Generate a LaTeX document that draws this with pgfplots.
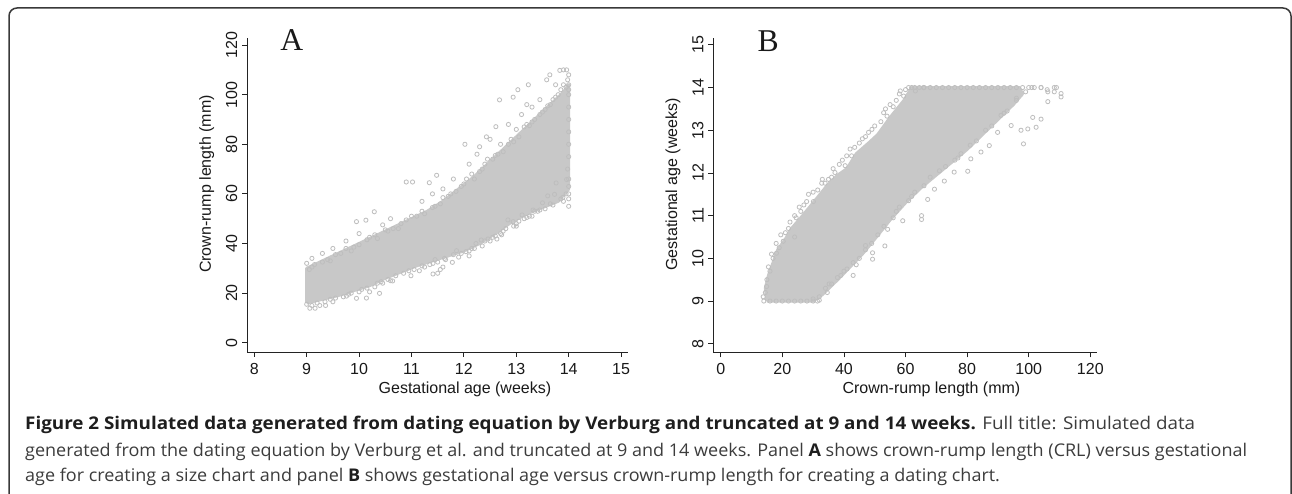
\documentclass[border=0pt]{standalone}
\usepackage{fontspec}
\setmainfont{Liberation Sans}
\newfontfamily\capfont{Open Sans}
\newfontfamily\panelfont{Liberation Serif}
\usepackage{graphicx}
\usepackage{pgfplots}
\pgfplotsset{compat=1.18}
\definecolor{dots}{RGB}{190,190,190}
\definecolor{core}{RGB}{200,200,200}
\definecolor{axc}{RGB}{35,35,35}
\definecolor{capc}{RGB}{60,60,60}
\definecolor{capb}{RGB}{30,30,30}
\newlength\capw
\newcommand\fitline[2]{\settowidth\capw{#2}\pgfmathsetmacro\sx{#1/\capw}\scalebox{\sx}[1]{#2}}

\pgfplotsset{
  stataaxis/.style={
    anchor=south west, scale only axis,
    axis lines*=left,
    axis line style={axc, line width=0.9pt},
    tick style={axc, line width=0.8pt},
    tick align=outside, major tick length=5pt,
    /pgf/number format/assume math mode=true,
    tick label style={font=\fontsize{16}{19}\selectfont, text=black!90},
    label style={font=\fontsize{16}{19}\selectfont, text=black!90},
    xticklabel style={inner sep=0pt, anchor=north, yshift=-6pt},
    yticklabel style={xshift=-4.5pt, rotate=90, anchor=south, inner sep=0pt},
    clip=false,
  },
  coreplot/.style={fill=core, draw=core, line width=3pt, line join=round},
  dotplot/.style={only marks, mark=o, mark size=2.1pt, mark options={draw=dots, line width=0.8pt}},
}

\begin{document}
\begin{tikzpicture}[x=1pt,y=1pt]
\path[use as bounding box, fill=white] (0,0) rectangle (1292,494);
\draw[line width=1.5pt, color=axc!90, rounded corners=8pt] (9,-30) -- (9,486) -- (1291,486) -- (1291,-30);

% ---------------- Panel A ----------------
\begin{axis}[stataaxis,
  at={(247pt,142pt)}, width=381pt, height=314pt,
  xmin=7.861, xmax=15.132, ymin=-3.75, ymax=122.86,
  xtick={8,9,...,15}, ytick={0,20,...,120},
  xlabel={Gestational age (weeks)}, ylabel={Crown-rump length (mm)},
  xlabel style={at={(axis description cs:0.572,-0.118)}, anchor=center},
  ylabel style={at={(axis description cs:-0.1058,0.535)}, anchor=center},
]
\addplot[coreplot] coordinates {
(9.0,16) (9.0,30) (9.2,32) (9.5,35) (9.8,38) (10.1,41) (10.4,44) (10.7,47) (11.0,50) (11.3,53)
(11.6,57) (11.9,62) (12.2,67) (12.5,73) (12.8,79) (13.1,85) (13.4,91) (13.7,97) (13.9,101) (14.0,104)
(14.0,62) (13.8,57) (13.5,54.5) (13.2,52) (12.9,48.5) (12.6,44) (12.3,40) (12.0,37) (11.7,35) (11.4,33)
(11.1,31) (10.8,28.5) (10.5,26) (10.2,23) (9.9,21) (9.6,19) (9.3,17.5) (9.0,16)
};
\addplot[dotplot] coordinates {
(10.29,52.8) (9.95,48.8) (10.13,49.4) (10.9,64.8) (11.02,64.8) (11.34,64.5) (11.48,67.5) (12.02,80)
(12.43,83) (12.61,87.1) (12.68,97.9) (12.94,99) (13.03,102) (13.23,104) (13.58,106) (13.64,108)
(13.83,109.8) (13.9,110) (13.96,110) (14.0,108) (14.0,104) (14.0,100) (13.75,104) (13.45,98)
(13.3,95) (13.1,92) (12.85,88) (12.5,82) (12.25,76) (12.1,72) (11.8,66) (11.6,62) (11.2,57)
(10.6,50) (10.45,47.5) (9.75,41) (9.5,38) (9.3,36) (9.1,34) (9.0,32) (10.0,44) (11.4,60) (12.3,79) (13.2,96)
(9.06,13.9) (9.16,13.9) (9.36,15) (9.76,18.8) (9.95,17.9) (10.14,18) (10.39,19.9) (10.42,24.6)
(10.64,24.9) (10.99,27) (11.15,29) (11.41,27.7) (11.41,32) (11.63,34) (11.78,32.4) (11.86,37.1)
(12.04,36.7) (12.23,40) (12.33,41.4) (12.46,41.8) (12.63,41.8) (12.72,43.5) (12.84,49.5) (12.94,48.8)
(13.11,51.5) (13.32,53.5) (13.41,53) (13.5,56.4) (13.6,59.2) (13.73,59.8) (13.89,58.6) (13.96,65.8)
(13.76,64.4) (11.5,28) (11.55,29.5) (11.6,30.5) (10.2,20.5) (9.5,16.5) (9.25,15) (12.1,35) (12.6,43)
(13.0,47) (13.3,51) (14.0,58) (14.0,55)
(9.05,29.5) (9.15,31.5) (9.4,33.5) (9.55,35.5) (9.75,38) (9.9,38.5) (10.15,41.5) (10.3,43.5) (10.55,45)
(10.8,48) (11.0,51) (11.2,53) (11.45,55) (11.6,58.5) (11.75,60) (11.95,63) (12.15,68) (12.3,69)
(12.45,74) (12.65,76) (12.7,80) (12.9,82) (13.0,86) (13.2,88) (13.35,90) (13.5,93) (13.65,96)
(13.8,100) (13.9,104) (13.98,106)
(9.0,15.5) (9.2,16) (9.45,17.5) (9.7,18.5) (9.85,20) (10.05,21.5) (10.3,22.5) (10.6,25) (10.7,27)
(10.95,29) (11.25,30.5) (11.5,32.5) (11.9,34.5) (12.1,37) (12.2,38) (12.5,41) (12.75,45) (13.0,48)
(13.2,50.5) (13.45,53.5) (13.65,56) (13.85,58) (14.0,60)
(9.1,30.5) (9.3,32.5) (9.45,33) (9.65,36) (9.85,37) (10.0,39.5) (10.2,42.5) (10.35,42) (10.5,45.5)
(10.65,46) (10.75,46) (10.9,49.5) (11.1,51) (11.25,52) (11.4,54.5) (11.55,56) (11.7,59) (11.85,61)
(12.0,64) (12.05,66) (12.2,66) (12.35,70) (12.4,72) (12.55,74) (12.6,75.5) (12.75,77) (12.85,80)
(12.95,81) (13.05,83) (13.15,87) (13.25,87.5) (13.3,89) (13.45,92) (13.55,94) (13.6,95.5) (13.7,98)
(13.75,99) (13.85,102) (13.95,103) (14.0,102)
(9.1,15) (9.35,16.5) (9.55,18) (9.8,19.5) (10.0,20.5) (10.15,22) (10.35,24) (10.45,24) (10.55,25.5)
(10.85,28) (11.05,29.5) (11.2,31) (11.35,31.5) (11.45,33.5) (11.65,33.5) (11.8,35.5) (11.95,36)
(12.15,38) (12.35,39) (12.4,41) (12.55,42.5) (12.7,44) (12.8,46) (12.95,47) (13.05,49) (13.15,50)
(13.25,51) (13.35,53) (13.55,54) (13.7,55.5) (13.9,57) (13.95,60) (14.0,63) (14.0,66) (13.98,70)
(14.0,75) (14.0,80) (14.0,85) (14.0,90) (14.0,95)
};
\end{axis}

% ---------------- Panel B ----------------
\begin{axis}[stataaxis,
  at={(713.3pt,141.7pt)}, width=384pt, height=314pt,
  xmin=-2.40, xmax=122.27, ymin=7.80, ymax=15.153,
  xtick={0,20,...,120}, ytick={8,9,...,15},
  xlabel={Crown-rump length (mm)}, ylabel={Gestational age (weeks)},
  xlabel style={at={(axis description cs:0.568,-0.118)}, anchor=center},
  ylabel style={at={(axis description cs:-0.105,0.535)}, anchor=center},
]
\addplot[coreplot] coordinates {
(15,9.0) (14.5,9.3) (15.5,9.6) (17,9.9) (18.5,10.2) (21,10.45) (23,10.7) (26,10.95) (30,11.3)
(34.5,11.7) (38,11.95) (41,12.1) (44,12.45) (48,12.7) (51,12.9) (55,13.3) (59.5,13.7) (62,14.0)
(97,14.0) (98,13.85) (95,13.6) (90,13.25) (85,12.9) (80,12.55) (75,12.25) (70,11.95) (65,11.65)
(60,11.3) (55,10.9) (50,10.45) (46,10.1) (42,9.8) (38,9.5) (33,9.15) (30,9.0) (15,9.0)
};
\addplot[dotplot] coordinates {
(13.8,9.1) (14.9,9.34) (18.1,10.12) (20.3,10.4) (27.9,11.33) (30.1,11.33) (32.8,11.76) (33.9,11.76)
(37.1,12.01) (40.4,12.17) (42,12.56) (40.9,12.4) (49.1,13.02) (52.9,13.41) (54,13.33) (58.3,13.92)
(59.4,13.8) (63.2,13.92) (65.9,14.0) (16,9.7) (17,10.0) (22,10.7) (24.5,10.95) (26,11.1) (36,11.9)
(45,12.7) (47,12.85) (56,13.55) (61,14.0) (24,10.5) (19,10.25)
(31.4,9.0) (34.6,9.2) (35.2,9.4) (37.9,9.55) (49.3,9.98) (49.3,10.13) (53.3,10.29) (54.2,10.68)
(59.1,10.88) (65.2,11.0) (65.2,10.91) (67.2,11.38) (69.4,11.62) (72.6,11.81) (75.8,12.02) (80.2,12.04)
(81.2,12.33) (84.5,12.49) (87.2,12.64) (89.9,12.95) (94.3,13.11) (98.3,12.68) (99.7,13.03) (102.4,13.07)
(104,13.26) (101.3,13.3) (97.5,13.0) (106.2,13.67) (108.3,13.9) (110.5,13.86) (110.5,13.78) (106.2,13.9)
(101.8,14.0) (104,14.0) (108.3,14.0) (44,9.85) (47,10.2) (57,11.1) (62,11.45) (77,12.35) (92,13.4)
(96,13.7) (40,9.7) (43,9.6)
(63,14) (66,14) (70,14) (74,14) (78,14) (82,14) (86,14) (90,14) (94,14) (98,14) (101,14) (104,14)
(106,13.95) (109,14) (14,9) (16,9) (18,9) (20,9) (22,9) (24,9) (26,9) (28,9) (30,9) (32,9.02)
(14.5,9.2) (15,9.5) (15.5,9.8) (16.5,10.1) (18,10.35) (19.5,10.55) (21,10.6) (22.5,10.85) (24,11.0)
(25.5,11.2) (27,11.25) (28.5,11.5) (30,11.55) (31.5,11.6) (33,11.85) (35,11.85) (36.5,12.1) (38.5,12.2)
(39.5,12.3) (42.5,12.4) (43.5,12.6) (46,12.8) (48,12.95) (50,13.1) (52,13.2) (53.5,13.5) (55,13.6)
(57,13.7) (58,13.85) (60,13.95)
(30,9.05) (32,9.1) (34,9.3) (36,9.4) (39,9.6) (41,9.75) (43,9.9) (45,10.0) (47,10.3) (49,10.35)
(51,10.55) (53,10.75) (56,10.95) (58,11.2) (61,11.35) (63,11.55) (66,11.7) (68,11.9) (71,12.05)
(73,12.15) (76,12.3) (78,12.45) (81,12.65) (83,12.75) (86,13.0) (88,13.1) (91,13.35) (93,13.45)
(96,13.75) (99,13.9) (100,14.0)
(62,14) (64.5,14) (68,14) (72,14) (76,14) (80,14) (84,14) (88,14) (92,14) (96,14)
};
\end{axis}

% panel letters
\node[font=\panelfont\fontsize{31.7}{32}\selectfont, text=black!90, inner sep=0pt] at (291.7,453.7) {A};
\node[font=\panelfont\fontsize{31.7}{32}\selectfont, text=black!90, inner sep=0pt] at (768.3,453.3) {B};

% caption
\begin{scope}[font=\capfont\fontsize{17.5}{21}\selectfont]
\node[anchor=base west, inner sep=0pt, text=capc] at (25,64.3)
  {\fitline{1170}{{\bfseries\color{capb}Figure 2 Simulated data generated from dating equation by Verburg and truncated at 9 and 14 weeks.} Full title: Simulated data}};
\node[anchor=base west, inner sep=0pt, text=capc] at (25,37.8)
  {\fitline{1222}{generated from the dating equation by Verburg et al. and truncated at 9 and 14 weeks. Panel {\bfseries\color{capb}A} shows crown-rump length (CRL) versus gestational}\global\let\sxtwo\sx};
\node[anchor=base west, inner sep=0pt, text=capc] at (25,12)
  {\scalebox{\sxtwo}[1]{age for creating a size chart and panel {\bfseries\color{capb}B} shows gestational age versus crown-rump length for creating a dating chart.}};
\end{scope}
\end{tikzpicture}
\end{document}
